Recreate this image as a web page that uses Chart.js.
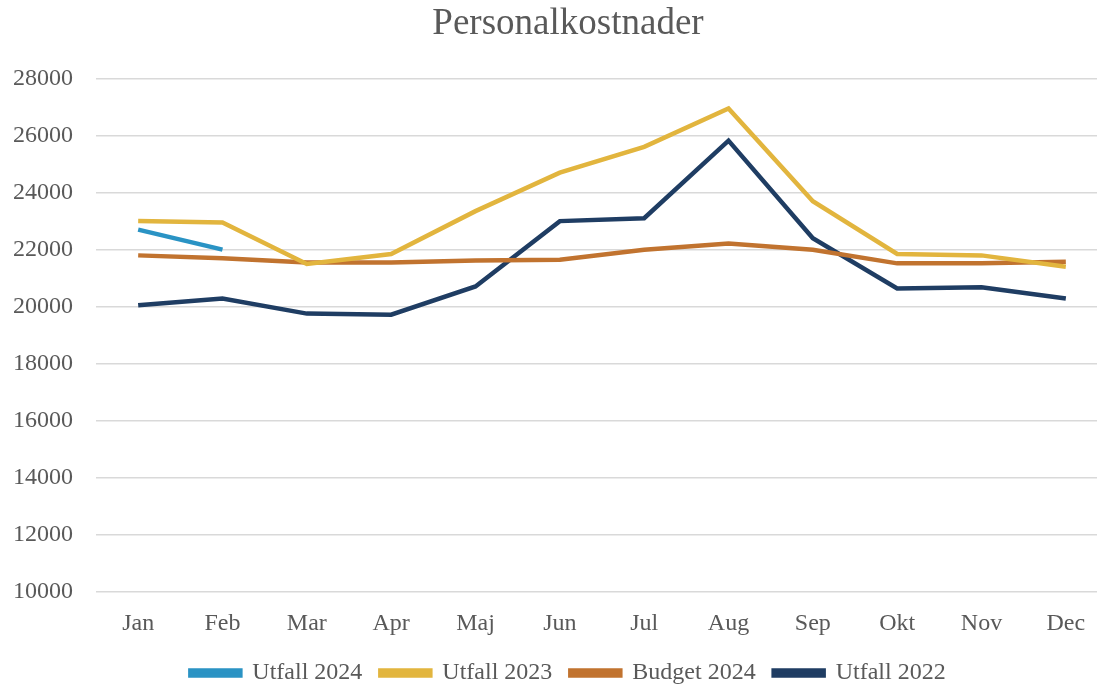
<!DOCTYPE html>
<html>
<head>
<meta charset="utf-8">
<script src="https://cdn.jsdelivr.net/npm/chart.js@4.4.1/dist/chart.umd.min.js"></script>
<style>
  html, body { margin: 0; padding: 0; background: #fff; overflow: hidden; }
  #wrap { width: 1136px; height: 688px; }
</style>
</head>
<body>
<div id="wrap"><canvas id="chart" width="1136" height="688"></canvas></div>
<script>
// Data
const months = ['Jan', 'Feb', 'Mar', 'Apr', 'Maj', 'Jun', 'Jul', 'Aug', 'Sep', 'Okt', 'Nov', 'Dec'];
const utfall2024 = [22700, 22000, null, null, null, null, null, null, null, null, null, null];
const utfall2023 = [23000, 22950, 21500, 21850, 23350, 24700, 25600, 26950, 23700, 21850, 21800, 21400];
const budget2024 = [21800, 21700, 21550, 21550, 21620, 21650, 22000, 22220, 22000, 21520, 21520, 21580];
const utfall2022 = [20050, 20290, 19760, 19720, 20710, 23000, 23100, 25820, 22400, 20640, 20680, 20290];

const textColor = '#595959';
const serif = '"Liberation Serif", "Times New Roman", serif';

function line(label, data, color) {
    return {
        label: label,
        data: data,
        borderColor: color,
        backgroundColor: color,
        borderWidth: 4.5,
        pointRadius: 0,
        tension: 0,
        spanGaps: false
    };
}

new Chart(document.getElementById('chart').getContext('2d'), {
    type: 'line',
    data: {
        labels: months,
        datasets: [
            line('Utfall 2024', utfall2024, '#2A93C4'),
            line('Utfall 2023', utfall2023, '#E2B53E'),
            line('Budget 2024', budget2024, '#C1732F'),
            line('Utfall 2022', utfall2022, '#1F3D63')
        ]
    },
    options: {
        responsive: false,
        animation: false,
        layout: { padding: { left: 0, right: 0, top: 0, bottom: -7 } },
        plugins: {
            title: {
                display: true,
                text: 'Personalkostnader',
                color: textColor,
                font: { family: serif, size: 37, weight: 'normal' },
                padding: { top: 2, bottom: 32 }
            },
            legend: {
                position: 'bottom',
                labels: {
                    color: textColor,
                    font: { family: serif, size: 24 },
                    boxWidth: 50,
                    boxHeight: 5,
                    padding: 18
                }
            },
            tooltip: { enabled: false }
        },
        scales: {
            x: {
                offset: true,
                afterFit: axis => { axis.height -= 12; },
                grid: { display: false, drawTicks: false },
                border: { display: false },
                ticks: { color: textColor, font: { family: serif, size: 24 }, padding: 17 }
            },
            y: {
                min: 10000,
                max: 28000,
                afterFit: axis => { axis.width = 96; },
                grid: { color: '#D9D9D9', lineWidth: 1.5, drawTicks: false },
                border: { display: false },
                ticks: {
                    stepSize: 2000,
                    color: textColor,
                    font: { family: serif, size: 24 },
                    padding: 23,
                    callback: v => String(v)
                }
            },
            // empty right-hand box so the plot area stops where the reference's does
            yRight: {
                position: 'right',
                afterFit: axis => { axis.width = 28; },
                grid: { display: false, drawTicks: false },
                border: { display: false },
                ticks: { display: false }
            }
        }
    }
});
</script>
</body>
</html>
